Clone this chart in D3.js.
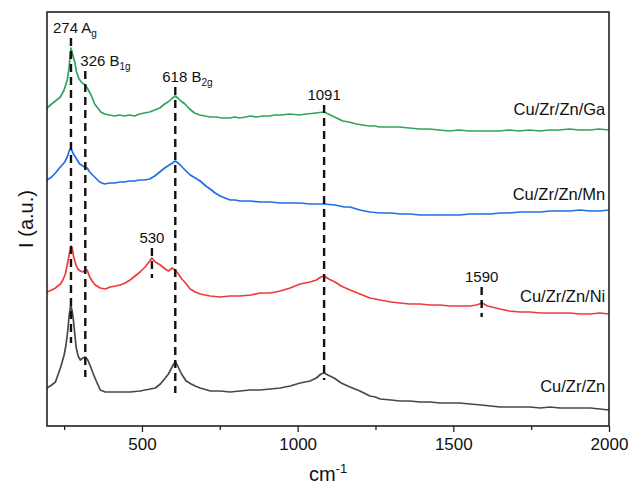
<!DOCTYPE html>
<html><head><meta charset="utf-8">
<script src="https://cdn.jsdelivr.net/npm/d3@7/dist/d3.min.js"></script>
<style>
html,body{margin:0;padding:0;background:#fff;}
text{font-family:Arial,"Liberation Sans",sans-serif;fill:#111;}
</style></head>
<body><svg id="chart" width="630" height="486"></svg>
<script>
// ---- data (Raman shift in cm-1, intensity in a.u.) ----
const seriesNames = ["Cu/Zr/Zn/Ga", "Cu/Zr/Zn/Mn", "Cu/Zr/Zn/Ni", "Cu/Zr/Zn"];
const seriesColors = ["#2ea55e", "#1f6fe3", "#f03a3a", "#484848"];

const gaWave = [195,210,222,238,250,260,266,269,272,277,284,290,298,308,318,328,338,348,358,368,380,396,412,428,444,460,476,492,508,525,541,557,573,588,598,607,615,625,638,653,669,685,703,718,738,758,781,798,813,833,848,868,888,908,928,948,974,1006,1028,1058,1085,1105,1125,1145,1165,1188,1208,1230,1248,1263,1298,1326,1358,1391,1423,1455,1487,1519,1551,1588,1618,1648,1678,1712,1744,1778,1808,1840,1872,1904,1938,1968,2000];
const gaInt  = [318,322,325,329,336,346,358,371,378,372,364,354,347,343,341,336,330,322,318,314,312,311,310,311,310,311,310,312,313,314,316,318,322,325,328,330,328,325,322,317,313,311,310,309,309,308,308,309,308,309,310,309,310,310,311,311,312,311,312,313,314,311,308,305,304,302,301,300,300,299,299,299,298,297,297,296,295,296,295,295,295,295,296,295,296,295,296,296,297,296,296,297,296];

const mnWave = [195,210,222,238,252,260,266,272,278,288,300,316,324,332,348,364,380,396,413,428,444,460,476,492,508,525,541,557,573,588,598,607,620,632,645,655,671,687,705,719,735,751,767,783,800,815,847,880,912,944,976,1008,1040,1060,1085,1120,1150,1168,1200,1232,1265,1300,1329,1360,1393,1425,1457,1489,1521,1553,1590,1620,1650,1680,1714,1746,1780,1810,1842,1874,1906,1940,1970,2000];
const mnInt  = [246,249,253,259,264,269,275,278,273,268,262,259,258,254,249,244,242,243,243,244,244,245,245,246,246,247,250,254,258,261,263,265,262,258,254,251,248,245,240,237,233,230,228,226,226,225,225,224,224,223,223,223,222,222,222,221,219,219,216,214,213,213,212,212,211,211,211,211,211,212,212,212,213,213,214,214,214,215,215,215,216,215,215,216];

const niWave = [195,210,222,238,246,254,260,266,272,276,280,288,294,302,310,318,324,332,340,350,366,382,398,415,430,446,462,478,494,510,520,532,543,559,575,585,597,605,615,628,640,655,671,687,719,751,783,815,850,880,912,944,976,1008,1040,1060,1075,1085,1100,1120,1140,1168,1200,1232,1265,1300,1329,1360,1393,1425,1457,1489,1521,1553,1575,1592,1610,1650,1680,1714,1746,1780,1810,1842,1874,1906,1940,1970,2000];
const niInt  = [134,136,138,142,146,152,161,171,180,178,170,161,157,155,154,156,156,149,145,141,138,137,139,140,141,143,146,150,154,159,163,168,164,161,157,155,158,156,153,147,143,137,134,132,130,129,130,130,131,133,133,135,138,142,144,146,149,150,147,144,140,136,132,128,126,124,123,122,122,121,121,120,120,120,121,123,120,117,115,114,114,113,113,113,113,112,112,113,112];

const znWave = [195,210,222,238,250,256,262,266,271,275,279,285,289,295,302,310,318,326,334,345,356,366,382,398,430,462,494,510,527,543,559,575,585,595,602,607,615,627,642,658,671,687,720,751,783,815,847,880,912,944,976,1008,1040,1060,1075,1085,1097,1117,1140,1168,1200,1232,1249,1265,1300,1329,1360,1393,1425,1457,1489,1521,1553,1590,1620,1650,1680,1714,1746,1780,1810,1842,1874,1906,1940,1970,2000];
const znInt  = [38,41,44,58,71,81,96,110,121,116,108,90,78,70,66,68,69,66,60,51,43,36,34,34,34,34,35,36,37,38,42,48,52,58,62,64,60,52,45,42,40,38,35,35,34,35,36,36,37,38,40,43,45,48,52,53,51,48,43,39,35,30,29,27,26,25,25,24,24,23,23,23,22,21,20,19,19,19,19,18,19,18,18,18,18,17,16];

// peak annotations
const annoWave  = [272, 318, 607, 1085, 532, 1591];
const annoMain  = ["274 A", "326 B", "618 B", "1091", "530", "1590"];
const annoSub   = ["g", "1g", "2g", "", "", ""];
const annoTop   = [388, 355, 339, 321, 178, 139];
const annoBottom= [83, 49, 33, 46, 148, 109];

const xTicks = [500, 1000, 1500, 2000];
const xMinorTicks = [250, 750, 1250, 1750];

// ---- layout ----
const W = 630, H = 486;
const m = {left: 47, right: 21, top: 12, bottom: 60};
const iw = W - m.left - m.right, ih = H - m.top - m.bottom;
const labelInt = [311, 226, 124, 34];          // baseline of series labels
const annoAnchor = ["start", "start", "start", "middle", "middle", "middle"];
const annoDx = [-18, -5, -13, 0, 0, 0];

const svg = d3.select("#chart");
const g = svg.append("g").attr("transform", `translate(${m.left},${m.top})`);

const x = d3.scaleLinear().domain([195, 2000]).range([0, iw]);
const y = d3.scaleLinear().domain([0, 414]).range([ih, 0]);

const series = [
  {w: gaWave, v: gaInt}, {w: mnWave, v: mnInt}, {w: niWave, v: niInt}, {w: znWave, v: znInt}
];

const line = d3.line().x(d => x(d[0])).y(d => y(d[1]));

series.forEach((s, i) => {
  const pts = s.w.map((w, k) => [w, s.v[k]]);
  g.append("path").datum(pts)
    .attr("d", line)
    .attr("fill", "none")
    .attr("stroke", seriesColors[i])
    .attr("stroke-width", 1.7)
    .attr("stroke-linejoin", "round");
  g.append("text")
    .attr("x", x(1988)).attr("y", y(labelInt[i]))
    .attr("text-anchor", "end")
    .style("font-size", "16.5px")
    .text(seriesNames[i]);
});

annoWave.forEach((w, i) => {
  g.append("line")
    .attr("x1", x(w)).attr("x2", x(w))
    .attr("y1", y(annoTop[i])).attr("y2", y(annoBottom[i]))
    .attr("stroke", "#111").attr("stroke-width", 2.4)
    .attr("stroke-dasharray", "8,5");
  const t = g.append("text")
    .attr("x", x(w) + annoDx[i]).attr("y", y(annoTop[i]) - 5)
    .attr("text-anchor", annoAnchor[i])
    .style("font-size", "15px");
  t.append("tspan").text(annoMain[i]);
  if (annoSub[i]) t.append("tspan").attr("dy", 4).style("font-size", "10px").text(annoSub[i]);
});

// axes
const xAxis = d3.axisBottom(x).tickValues(xTicks).tickSize(6).tickPadding(6).tickFormat(d3.format("d"));
const gx = g.append("g").attr("transform", `translate(0,${ih})`).call(xAxis);
gx.selectAll("text").style("font-size", "17px").attr("fill", "#111");
gx.selectAll("line").attr("stroke", "#222").attr("stroke-width", 1.3);
gx.select(".domain").remove();
g.append("g").attr("transform", `translate(0,${ih})`)
  .call(d3.axisBottom(x).tickValues(xMinorTicks).tickSize(4).tickFormat(""))
  .call(s => { s.select(".domain").remove(); s.selectAll("line").attr("stroke", "#222").attr("stroke-width", 1.3); });

// frame
g.append("rect").attr("x", 0).attr("y", 0).attr("width", iw).attr("height", ih)
  .attr("fill", "none").attr("stroke", "#222").attr("stroke-width", 1.6);

// titles
const xt = svg.append("text")
  .attr("x", m.left + iw / 2).attr("y", 481)
  .attr("text-anchor", "middle").style("font-size", "20px");
xt.append("tspan").text("cm");
xt.append("tspan").attr("dy", -8).style("font-size", "13px").text("-1");

svg.append("text")
  .attr("transform", `translate(33,${m.top + ih / 2}) rotate(-90)`)
  .attr("text-anchor", "middle").style("font-size", "20px")
  .text("I (a.u.)");
</script></body></html>
